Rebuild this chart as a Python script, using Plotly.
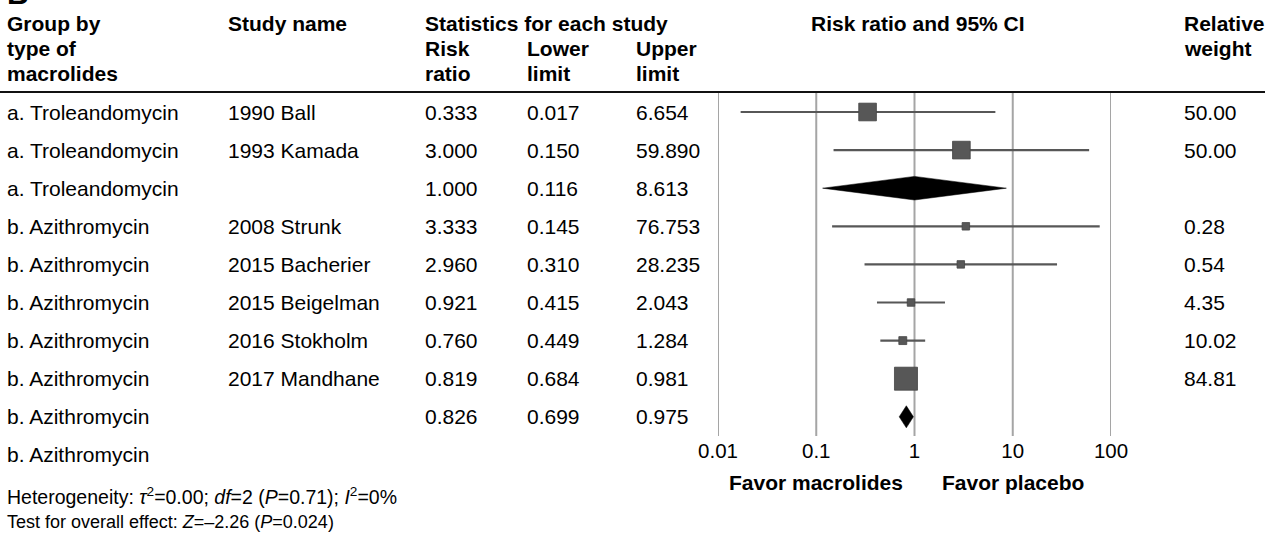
import numpy as np
import plotly.graph_objects as go

# ---------------- data ----------------
groups = ["a. Troleandomycin", "a. Troleandomycin", "a. Troleandomycin",
          "b. Azithromycin", "b. Azithromycin", "b. Azithromycin",
          "b. Azithromycin", "b. Azithromycin", "b. Azithromycin", "b. Azithromycin"]
studies = ["1990 Ball", "1993 Kamada", "", "2008 Strunk", "2015 Bacherier",
           "2015 Beigelman", "2016 Stokholm", "2017 Mandhane", "", ""]
risk_ratio = [0.333, 3.000, 1.000, 3.333, 2.960, 0.921, 0.760, 0.819, 0.826, None]
lower = [0.017, 0.150, 0.116, 0.145, 0.310, 0.415, 0.449, 0.684, 0.699, None]
upper = [6.654, 59.890, 8.613, 76.753, 28.235, 2.043, 1.284, 0.981, 0.975, None]
weights = [50.00, 50.00, None, 0.28, 0.54, 4.35, 10.02, 84.81, None, None]
is_summary = [False, False, True, False, False, False, False, False, True, False]
tick_vals = [0.01, 0.1, 1, 10, 100]
tick_text = ["0.01", "0.1", "1", "10", "100"]
favor_labels = ["Favor macrolides", "Favor placebo"]
favor_pos = [0.1, 10]

# ---------------- layout constants ----------------
W, H = 1265, 535
ROW0, ROW_H = 112.0, 38.1
FONT = "Liberation Sans, Arial, Helvetica, sans-serif"
FS = 21
GRAY = "#575757"
GRID = "#a5a5a5"


def py(px):
    """pixel row (from top) -> row units on y axis"""
    return (px - ROW0) / ROW_H


def ppx(px):
    return px / W


def ppy(px):
    return 1 - px / H


fig = go.Figure()

# vertical grid lines (through the x axis scale)
gx, gy = [], []
for t in tick_vals:
    gx += [t, t, None]
    gy += [py(92), py(436), None]
fig.add_trace(go.Scatter(x=gx, y=gy, mode="lines",
                         line=dict(color=GRID, width=2), hoverinfo="skip"))

# confidence interval lines for individual studies
cx, cy = [], []
for i, s in enumerate(is_summary):
    if risk_ratio[i] is None or s:
        continue
    cx += [lower[i], upper[i], None]
    cy += [i, i, None]
fig.add_trace(go.Scatter(x=cx, y=cy, mode="lines",
                         line=dict(color=GRAY, width=2.2), hoverinfo="skip"))

# squares sized by weight
sx, sy, ss = [], [], []
for i, s in enumerate(is_summary):
    if risk_ratio[i] is None or s:
        continue
    sx.append(risk_ratio[i])
    sy.append(i)
    ss.append(max(7.5, 2.5 * np.sqrt(weights[i])))
fig.add_trace(go.Scatter(x=sx, y=sy, mode="markers",
                         marker=dict(symbol="square", size=ss, color=GRAY, opacity=1,
                                     line=dict(width=0.8, color="#444444")),
                         hoverinfo="skip"))

# summary diamonds
for i, s in enumerate(is_summary):
    if not s:
        continue
    hh = 0.31 if i == 2 else 0.29
    fig.add_trace(go.Scatter(
        x=[lower[i], risk_ratio[i], upper[i], risk_ratio[i], lower[i]],
        y=[i, i - hh, i, i + hh, i],
        mode="lines", fill="toself", fillcolor="black",
        line=dict(color="black", width=0.5), hoverinfo="skip"))

ann = []


def txt(x, y, text, size=FS, xanchor="left", yref="y", xref="paper", bold=False):
    if bold:
        text = "<b>" + text + "</b>"
    ann.append(dict(x=x, y=y, xref=xref, yref=yref, text=text, showarrow=False,
                    xanchor=xanchor, yanchor="middle",
                    font=dict(family=FONT, size=size, color="black")))


# table body
COL_GROUP, COL_STUDY, COL_RR, COL_LO, COL_UP, COL_W = 5, 226, 423, 525, 634, 1182
for i in range(len(groups)):
    txt(ppx(COL_GROUP), i, groups[i])
    if studies[i]:
        txt(ppx(COL_STUDY), i, studies[i])
    if risk_ratio[i] is not None:
        txt(ppx(COL_RR), i, f"{risk_ratio[i]:.3f}")
        txt(ppx(COL_LO), i, f"{lower[i]:.3f}")
        txt(ppx(COL_UP), i, f"{upper[i]:.3f}")
    if weights[i] is not None:
        txt(ppx(COL_W), i, f"{weights[i]:.2f}")

# headers
L1, L2, L3 = 24, 49, 73.5
txt(ppx(COL_GROUP), ppy(L1), "Group by", yref="paper", bold=True)
txt(ppx(COL_GROUP), ppy(L2), "type of", yref="paper", bold=True)
txt(ppx(COL_GROUP), ppy(L3), "macrolides", yref="paper", bold=True)
txt(ppx(COL_STUDY), ppy(L1), "Study name", yref="paper", bold=True)
txt(ppx(COL_RR), ppy(L1), "Statistics for each study", yref="paper", bold=True)
txt(ppx(COL_RR), ppy(L2), "Risk", yref="paper", bold=True)
txt(ppx(COL_RR), ppy(L3), "ratio", yref="paper", bold=True)
txt(ppx(COL_LO), ppy(L2), "Lower", yref="paper", bold=True)
txt(ppx(COL_LO), ppy(L3), "limit", yref="paper", bold=True)
txt(ppx(COL_UP), ppy(L2), "Upper", yref="paper", bold=True)
txt(ppx(COL_UP), ppy(L3), "limit", yref="paper", bold=True)
txt(ppx(918), ppy(L1), "Risk ratio and 95% CI", yref="paper", bold=True, xanchor="center")
txt(ppx(COL_W), ppy(L1), "Relative", yref="paper", bold=True)
txt(ppx(COL_W), ppy(L2), "weight", yref="paper", bold=True)

# favour labels
for lab, pos in zip(favor_labels, favor_pos):
    txt(np.log10(pos), ppy(482.5), lab, xref="x", yref="paper", bold=True, xanchor="center")

# footnotes
txt(ppx(5), ppy(496),
    "Heterogeneity: <i>τ</i><sup>2</sup>=0.00; <i>df</i>=2 (<i>P</i>=0.71); <i>I</i><sup>2</sup>=0%",
    size=19.5, yref="paper")
txt(ppx(5), ppy(522), "Test for overall effect: <i>Z</i>=–2.26 (<i>P</i>=0.024)",
    size=18, yref="paper")

# panel letter (cut at top)
ann.append(dict(x=ppx(5), y=ppy(12), xref="paper", yref="paper", text="<b>B</b>",
                showarrow=False, xanchor="left", yanchor="bottom",
                font=dict(family=FONT, size=30, color="black")))

fig.update_layout(
    template="none",
    width=W, height=H, autosize=False,
    margin=dict(l=0, r=0, t=0, b=0, pad=0, autoexpand=False),
    paper_bgcolor="white", plot_bgcolor="rgba(0,0,0,0)",
    showlegend=False,
    annotations=ann,
    shapes=[dict(type="line", xref="paper", x0=0, x1=1, yref="y",
                 y0=py(92), y1=py(92), line=dict(color="#111", width=1.8))],
    xaxis=dict(type="log", range=[-2, 2], domain=[ppx(718), ppx(1111)],
               anchor="free", position=ppy(436), automargin=False,
               tickvals=tick_vals, ticktext=tick_text, ticks="",
               showgrid=False, zeroline=False, showline=False,
               tickfont=dict(family=FONT, size=20.5, color="black"),
               fixedrange=True),
    yaxis=dict(range=[py(H), py(0)], domain=[0, 1], visible=False, automargin=False,
               showgrid=False, zeroline=False, fixedrange=True),
)

fig.write_html("out.html", config={"displayModeBar": False},
               post_script="document.body.style.margin='0';document.body.style.overflow='hidden';")
